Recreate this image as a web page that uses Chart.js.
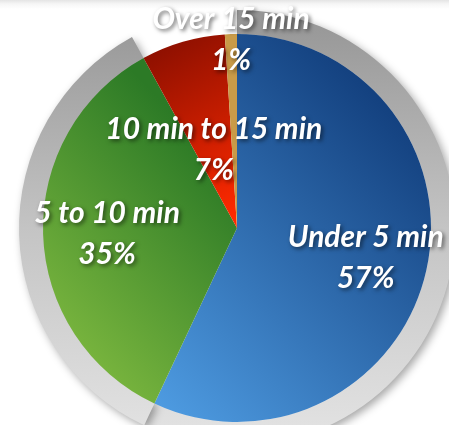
<!DOCTYPE html>
<html>
<head>
<meta charset="utf-8">
<script src="https://cdn.jsdelivr.net/npm/chart.js@4"></script>
<style>
  html, body { margin: 0; padding: 0; width: 449px; height: 425px; overflow: hidden; }
  body { background: linear-gradient(to bottom, #e4e4e4 0px, #f6f6f6 4px, #ffffff 9px); }
  #wrap { position: absolute; left: 0; top: 0; width: 474px; height: 456px; }
</style>
</head>
<body>
<div id="wrap"><canvas id="grafica"></canvas></div>
<script>
// Datos del gráfico
const categorias = ['Under 5 min', '5 to 10 min', '10 min to 15 min', 'Over 15 min'];
const porcentajes = [57, 35, 7, 1];
const etiquetasValor = ['57%', '35%', '7%', '1%'];

// Estilo: colores de degradado y distancia de la etiqueta al centro (fracción del radio)
const degradados = [
    { desde: [0.30, 0.92], hasta: [0.97, 0.25], colores: ['#4f9de3', '#0f3a78'] },
    { desde: [0.07, 0.76], hasta: [0.48, 0.37], colores: ['#7db83f', '#2c7a26'] },
    { desde: [0.30, 0.10], hasta: [0.50, 0.47], colores: ['#8f1000', '#ff2a00'] },
    { desde: [0, 0], hasta: [1, 1], colores: ['#c99b48', '#c99b48'] }
];
const radioEtiqueta = [0.68, 0.67, 0.43, 0.98];

function crearDegradado(ctx, area, d) {
    const g = ctx.createLinearGradient(
        area.left + d.desde[0] * area.width, area.top + d.desde[1] * area.height,
        area.left + d.hasta[0] * area.width, area.top + d.hasta[1] * area.height
    );
    g.addColorStop(0, d.colores[0]);
    g.addColorStop(1, d.colores[1]);
    return g;
}

function colorAnillo(context) {
    const area = context.chart.chartArea;
    if (!area) return '#bbb';
    // solo las dos primeras porciones llevan anillo gris
    if (context.dataIndex > 1) return 'rgba(0,0,0,0)';
    const g = context.chart.ctx.createLinearGradient(0, area.top, 0, area.bottom);
    g.addColorStop(0, '#959595');
    g.addColorStop(0.5, '#c4c4c4');
    g.addColorStop(1, '#e4e4e4');
    return g;
}

// Sombra solo para el anillo exterior
const sombraAnillo = {
    id: 'sombraAnillo',
    beforeDatasetDraw(chart, args) {
        if (args.index !== 0) return;
        const ctx = chart.ctx;
        ctx.save();
        ctx.shadowColor = 'rgba(0,0,0,0.35)';
        ctx.shadowBlur = 8;
        ctx.shadowOffsetX = 3;
        ctx.shadowOffsetY = 3;
    },
    afterDatasetDraw(chart, args) {
        if (args.index !== 0) return;
        chart.ctx.restore();
    }
};

// Etiquetas blancas con sombra sobre cada porción
const etiquetas = {
    id: 'etiquetas',
    afterDraw(chart) {
        const ctx = chart.ctx;
        const meta = chart.getDatasetMeta(1);
        ctx.save();
        ctx.font = 'italic bold 30px Lato, "Open Sans", sans-serif';
        ctx.fillStyle = '#ffffff';
        ctx.textAlign = 'center';
        ctx.textBaseline = 'middle';
        ctx.shadowColor = 'rgba(0,0,0,0.55)';
        ctx.shadowBlur = 4;
        ctx.shadowOffsetX = 2;
        ctx.shadowOffsetY = 2;
        meta.data.forEach((arco, i) => {
            const { x, y, startAngle, endAngle, outerRadius } = arco.getProps(['x', 'y', 'startAngle', 'endAngle', 'outerRadius'], true);
            const medio = (startAngle + endAngle) / 2;
            const r = outerRadius * radioEtiqueta[i];
            const px = x + Math.cos(medio) * r;
            const py = y + Math.sin(medio) * r;
            ctx.fillText(categorias[i], px, py - 19);
            ctx.fillText(etiquetasValor[i], px, py + 22);
        });
        ctx.restore();
    }
};

new Chart(document.getElementById('grafica'), {
    type: 'doughnut',
    data: {
        labels: categorias,
        datasets: [
            {
                data: porcentajes,
                backgroundColor: colorAnillo,
                borderWidth: 0,
                weight: 24,
                order: 2
            },
            {
                data: porcentajes,
                backgroundColor: context => {
                    const area = context.chart.chartArea;
                    if (!area) return '#888';
                    return crearDegradado(context.chart.ctx, area, degradados[context.dataIndex]);
                },
                borderWidth: 0,
                weight: 194,
                order: 1
            }
        ]
    },
    options: {
        responsive: true,
        maintainAspectRatio: false,
        animation: false,
        cutout: 0,
        layout: { padding: { left: 19, right: 19, top: 10, bottom: 10 } },
        plugins: {
            legend: { display: false },
            tooltip: { enabled: false }
        }
    },
    plugins: [sombraAnillo, etiquetas]
});
</script>
</body>
</html>
